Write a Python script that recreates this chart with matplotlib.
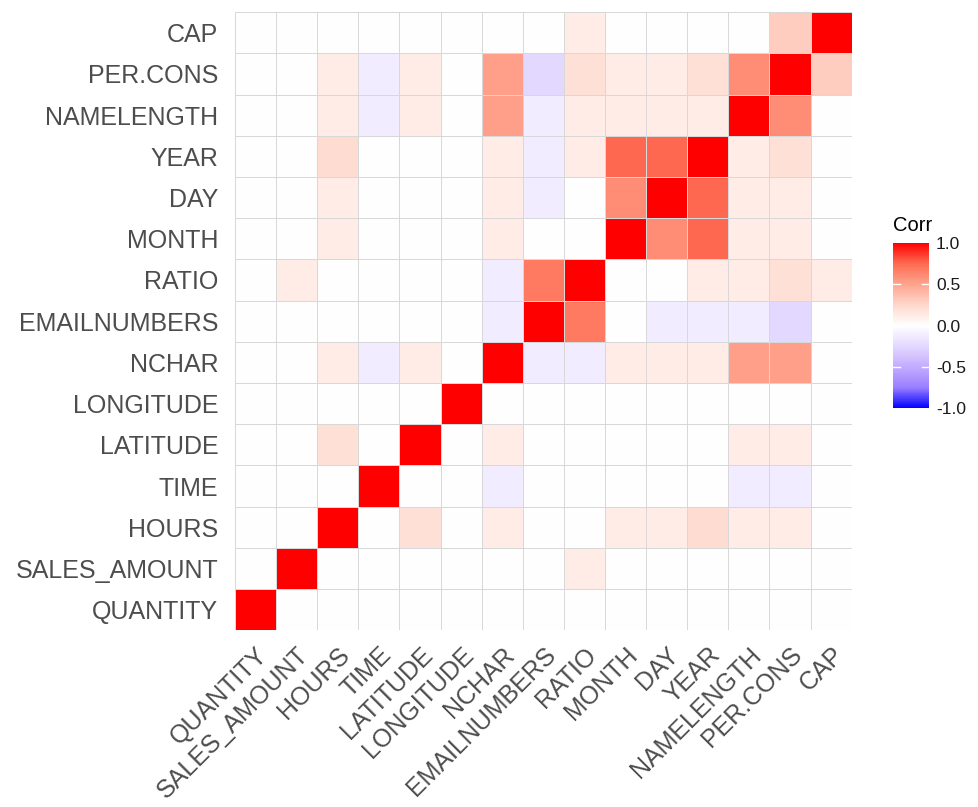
import numpy as np
import matplotlib.pyplot as plt
from matplotlib.colors import LinearSegmentedColormap

plt.rcParams['font.family'] = ['Liberation Sans', 'DejaVu Sans']

variables = ["QUANTITY", "SALES_AMOUNT", "HOURS", "TIME", "LATITUDE", "LONGITUDE",
             "NCHAR", "EMAILNUMBERS", "RATIO", "MONTH", "DAY", "YEAR",
             "NAMELENGTH", "PER.CONS", "CAP"]

# correlation rows, in the same order as variables (bottom row first)
quantity     = [1, 0, 0, 0, 0, 0, 0, 0, 0, 0, 0, 0, 0, 0, 0]
sales_amount = [0, 1, 0, 0, 0, 0, 0, 0, 0.12, 0, 0, 0, 0, 0, 0]
hours        = [0, 0, 1, 0, 0.2, 0, 0.12, 0, 0, 0.12, 0.12, 0.22, 0.12, 0.12, 0]
time_        = [0, 0, 0, 1, 0, 0, -0.12, 0, 0, 0, 0, 0, -0.12, -0.12, 0]
latitude     = [0, 0, 0.2, 0, 1, 0, 0.12, 0, 0, 0, 0, 0, 0.12, 0.12, 0]
longitude    = [0, 0, 0, 0, 0, 1, 0, 0, 0, 0, 0, 0, 0, 0, 0]
nchar        = [0, 0, 0.12, -0.12, 0.12, 0, 1, -0.12, -0.12, 0.12, 0.12, 0.12, 0.52, 0.52, 0]
emailnumbers = [0, 0, 0, 0, 0, 0, -0.12, 1, 0.68, 0, -0.12, -0.12, -0.12, -0.25, 0]
ratio        = [0, 0.12, 0, 0, 0, 0, -0.12, 0.68, 1, 0, 0, 0.12, 0.12, 0.2, 0.12]
month        = [0, 0, 0.12, 0, 0, 0, 0.12, 0, 0, 1, 0.6, 0.75, 0.12, 0.12, 0]
day          = [0, 0, 0.12, 0, 0, 0, 0.12, -0.12, 0, 0.6, 1, 0.75, 0.12, 0.12, 0]
year         = [0, 0, 0.22, 0, 0, 0, 0.12, -0.12, 0.12, 0.75, 0.75, 1, 0.12, 0.2, 0]
namelength   = [0, 0, 0.12, -0.12, 0.12, 0, 0.52, -0.12, 0.12, 0.12, 0.12, 0.12, 1, 0.6, 0]
per_cons     = [0, 0, 0.12, -0.12, 0.12, 0, 0.52, -0.25, 0.2, 0.12, 0.12, 0.2, 0.6, 1, 0.3]
cap          = [0, 0, 0, 0, 0, 0, 0, 0, 0.12, 0, 0, 0, 0, 0.3, 1]

corr = np.array([quantity, sales_amount, hours, time_, latitude, longitude, nchar,
                 emailnumbers, ratio, month, day, year, namelength, per_cons, cap])

# blue - white - red gradient, with intermediate stops to mimic Lab blending
cmap = LinearSegmentedColormap.from_list("corr", [
    (0.0, "#0000FF"), (0.125, "#9A7FFF"), (0.25, "#C2ACFF"), (0.375, "#E3D8FF"),
    (0.5, "#FFFFFF"),
    (0.625, "#FFD8CC"), (0.75, "#FFA48E"), (0.875, "#FF6B52"), (1.0, "#FF0000")])

fig = plt.figure(figsize=(9.79, 8.07), dpi=100)
ax = fig.add_axes([0.240, 0.219, 0.630, 0.766])

n = len(variables)
mesh = ax.pcolormesh(np.arange(n + 1), np.arange(n + 1), corr, cmap=cmap,
                     vmin=-1, vmax=1, edgecolor="#d8d8d8", linewidth=0.6)

ax.set_xlim(0, n)
ax.set_ylim(0, n)
ax.set_xticks(np.arange(n) + 0.5)
ax.set_yticks(np.arange(n) + 0.5)
ax.set_xticklabels(variables, rotation=45, ha="right", va="top",
                   rotation_mode="anchor", fontsize=18, color="#4d4d4d")
ax.set_yticklabels(variables, fontsize=18, color="#4d4d4d")
ax.tick_params(axis="y", length=0, pad=12)
ax.tick_params(axis="x", length=0, pad=9)
for s in ax.spines.values():
    s.set_visible(False)

# colourbar legend
cax = fig.add_axes([0.912, 0.494, 0.037, 0.205])
cb = fig.colorbar(mesh, cax=cax, ticks=[-1, -0.5, 0, 0.5, 1])
cb.outline.set_visible(False)
cb.ax.set_yticklabels(["-1.0", "-0.5", "0.0", "0.5", "1.0"])
cb.ax.tick_params(length=0, labelsize=12.5, labelcolor="#1a1a1a", pad=5)
for v in [-0.5, 0, 0.5]:
    cax.plot([0, 0.2], [v, v], color="white", lw=1, transform=cax.get_yaxis_transform())
    cax.plot([0.8, 1], [v, v], color="white", lw=1, transform=cax.get_yaxis_transform())
fig.text(0.912, 0.709, "Corr", fontsize=14.5, color="black", ha="left", va="bottom")

fig.savefig("out.png", dpi=100, facecolor="white")
